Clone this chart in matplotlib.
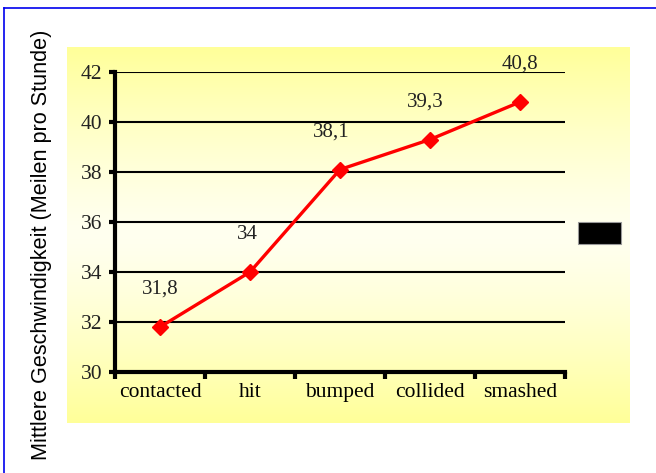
import numpy as np
import matplotlib.pyplot as plt
from matplotlib.lines import Line2D
from matplotlib.patches import Rectangle

# data
verbs = ['contacted', 'hit', 'bumped', 'collided', 'smashed']
speed = [31.8, 34.0, 38.1, 39.3, 40.8]
speed_labels = ['31,8', '34', '38,1', '39,3', '40,8']
y_ticks = [30, 32, 34, 36, 38, 40, 42]

fig = plt.figure(figsize=(6.56, 4.73), dpi=100)

# yellow gradient panel behind the chart
bg = fig.add_axes([67/656, 1-423/473, (630-67)/656, (423-47)/473])
t = np.linspace(-1, 1, 200)
w = np.abs(t) ** 1.3
rgb = np.zeros((200, 1, 3))
rgb[:, 0, 0] = 1.0
rgb[:, 0, 1] = 1.0
rgb[:, 0, 2] = 0.94 * (1 - w) + 0.60 * w
bg.imshow(rgb, aspect='auto', extent=[0, 1, 0, 1])
bg.axis('off')

# blue frame lines
fig.add_artist(Line2D([4/656, 1], [1-8/473, 1-8/473], color='#0000ee', lw=1.2))
fig.add_artist(Line2D([4/656, 4/656], [0, 1-8/473], color='#0000ee', lw=1.2))

ax = fig.add_axes([115/656, 1-372/473, 450/656, 300/473])
ax.patch.set_alpha(0)
x = np.arange(len(verbs))
ax.set_xlim(-0.5, len(verbs) - 0.5)
ax.set_ylim(30, 42)

for yv in y_ticks[1:]:
    ax.axhline(yv, color='black', lw=1.5, zorder=1)

ax.plot(x, speed, color='#ff0000', lw=2.4, marker='D', markersize=8, zorder=3)

offsets = [0, -0.03, -0.1, -0.05, 0]
for xi, yi, lab, dx in zip(x, speed, speed_labels, offsets):
    ax.annotate(lab, (xi + dx, yi), xytext=(0, 27), textcoords='offset points',
                ha='center', va='center', fontsize=15, family='Liberation Serif',
                color='#222222')

ax.set_yticks(y_ticks)
ax.set_yticklabels([str(v) for v in y_ticks], family='Liberation Serif', fontsize=15.5,
                   color='#222222')
ax.set_xticks(np.arange(-0.5, len(verbs)), minor=False)
ax.set_xticklabels([])
ax.set_xticks(x, minor=True)
ax.set_xticklabels(verbs, minor=True, family='Liberation Serif', fontsize=15.5)
ax.tick_params(axis='x', which='minor', length=0, pad=8)
ax.tick_params(axis='x', which='major', length=5, width=3, direction='out')
ax.tick_params(axis='y', length=4, width=3, direction='out', pad=5)

for s in ['top', 'right']:
    ax.spines[s].set_visible(False)
ax.spines['left'].set_linewidth(3)
ax.spines['bottom'].set_linewidth(3)

fig.text(42/656, 1-245/473, 'Mittlere Geschwindigkeit (Meilen pro Stunde)',
         rotation=90, ha='center', va='center', fontsize=15.6,
         family='Liberation Sans')

# black legend swatch
fig.add_artist(Rectangle((578/656, 1-244/473), 43/656, 22/473,
                         facecolor='black', edgecolor='#999999', lw=0.8))

fig.savefig('out.png', dpi=100)
